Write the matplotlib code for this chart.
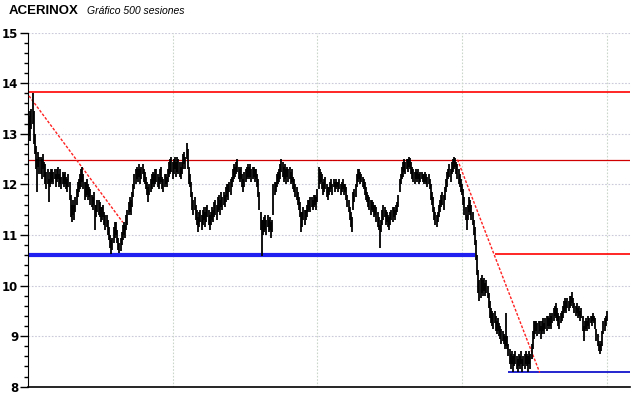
import numpy as np
import matplotlib
matplotlib.use("Agg")
import matplotlib.pyplot as plt
from matplotlib.ticker import MultipleLocator

# daily low / high, 500 sessions (10 per row)
lows = [
    12.95, 12.85, 13.10, 13.20, 12.80, 12.60, 12.30, 11.85, 12.35, 12.20,
    12.20, 12.10, 12.30, 12.15, 12.00, 11.90, 12.00, 11.65, 11.95, 12.00,
    12.05, 12.00, 12.10, 11.95, 12.05, 12.10, 11.95, 12.00, 11.90, 12.00,
    11.95, 12.00, 11.90, 11.85, 11.95, 11.70, 11.35, 11.25, 11.40, 11.30,
    11.45, 11.60, 11.75, 11.85, 11.90, 11.95, 12.05, 11.90, 11.70, 11.75,
    11.80, 11.70, 11.75, 11.60, 11.55, 11.50, 11.60, 11.10, 11.35, 11.45,
    11.40, 11.35, 11.25, 11.30, 11.35, 11.20, 11.10, 11.15, 11.00, 10.90,
    10.75, 10.63, 10.70, 10.85, 10.95, 11.00, 10.85, 10.70, 10.65, 10.68,
    10.80, 10.90, 11.00, 10.95, 11.10, 11.20, 11.40, 11.45, 11.40, 11.55,
    11.75, 11.90, 12.00, 12.10, 12.05, 12.15, 12.00, 12.10, 12.20, 12.05,
    12.00, 11.90, 11.80, 11.65, 11.80, 11.85, 11.90, 12.00, 11.95, 12.00,
    12.05, 11.95, 11.90, 12.00, 12.05, 11.90, 11.85, 11.95, 12.00, 11.95,
    12.05, 12.15, 12.20, 12.25, 12.10, 12.20, 12.30, 12.15, 12.25, 12.20,
    12.15, 12.10, 12.20, 12.30, 12.40, 12.30, 12.50, 12.30, 12.00, 11.95,
    11.75, 11.50, 11.40, 11.50, 11.30, 11.20, 11.05, 11.15, 11.25, 11.10,
    11.20, 11.30, 11.15, 11.25, 11.35, 11.20, 11.10, 11.20, 11.30, 11.25,
    11.35, 11.40, 11.30, 11.45, 11.50, 11.40, 11.55, 11.50, 11.60, 11.55,
    11.65, 11.75, 11.70, 11.85, 11.80, 11.95, 12.05, 12.10, 12.15, 12.20,
    12.25, 12.10, 12.05, 12.10, 11.95, 11.85, 11.95, 12.05, 12.10, 12.15,
    12.10, 12.15, 12.05, 12.10, 12.15, 12.05, 12.10, 11.95, 11.75, 11.50,
    11.10, 10.58, 11.00, 11.05, 11.10, 11.00, 11.15, 11.05, 11.10, 10.95,
    11.05, 11.40, 11.80, 11.85, 11.95, 12.00, 12.05, 12.10, 12.25, 12.15,
    12.05, 12.10, 12.00, 12.15, 12.05, 12.10, 12.00, 12.05, 11.90, 11.85,
    11.75, 11.70, 11.60, 11.50, 11.35, 11.05, 11.15, 11.30, 11.20, 11.30,
    11.35, 11.45, 11.50, 11.45, 11.55, 11.50, 11.55, 11.60, 11.50, 11.65,
    11.90, 12.00, 12.05, 11.90, 11.80, 11.85, 11.90, 11.75, 11.70, 11.80,
    11.85, 11.90, 11.80, 11.95, 11.85, 11.90, 11.95, 11.85, 11.90, 11.80,
    11.85, 11.90, 11.80, 11.85, 11.70, 11.55, 11.45, 11.30, 11.15, 11.05,
    11.50, 11.65, 11.75, 11.95, 12.05, 12.10, 12.00, 12.05, 11.95, 11.90,
    11.80, 11.70, 11.65, 11.55, 11.50, 11.40, 11.50, 11.45, 11.35, 11.40,
    11.25, 11.15, 11.10, 10.75, 11.05, 11.20, 11.30, 11.35, 11.20, 11.25,
    11.15, 11.10, 11.20, 11.30, 11.25, 11.35, 11.30, 11.40, 11.45, 11.55,
    11.85, 12.00, 12.10, 12.15, 12.25, 12.20, 12.30, 12.25, 12.35, 12.30,
    12.20, 12.10, 12.05, 12.00, 12.10, 12.05, 12.10, 12.00, 12.05, 12.10,
    12.05, 12.00, 12.05, 12.00, 11.95, 12.00, 11.90, 11.70, 11.60, 11.45,
    11.30, 11.20, 11.15, 11.25, 11.35, 11.45, 11.55, 11.60, 11.50, 11.70,
    11.85, 11.95, 12.10, 12.15, 12.05, 12.20, 12.25, 12.30, 12.35, 12.20,
    12.10, 12.00, 11.95, 11.85, 11.80, 11.60, 11.40, 11.30, 11.10, 11.30,
    11.45, 11.40, 11.30, 11.20, 11.00, 10.80, 10.50, 10.20, 9.85, 9.70,
    9.75, 9.85, 9.80, 9.90, 9.80, 9.85, 9.75, 9.55, 9.35, 9.25,
    9.20, 9.15, 9.25, 9.10, 9.05, 9.10, 9.00, 8.95, 8.85, 8.90,
    8.85, 8.75, 8.80, 8.75, 8.60, 8.45, 8.35, 8.45, 8.30, 8.40,
    8.45, 8.35, 8.30, 8.40, 8.35, 8.45, 8.30, 8.40, 8.35, 8.45,
    8.40, 8.30, 8.45, 8.35, 8.55, 8.75, 8.95, 9.05, 9.10, 9.00,
    9.05, 9.10, 8.95, 9.05, 9.10, 9.05, 9.15, 9.10, 9.20, 9.15,
    9.20, 9.15, 9.25, 9.30, 9.40, 9.35, 9.30, 9.20, 9.15, 9.25,
    9.30, 9.35, 9.45, 9.50, 9.45, 9.55, 9.50, 9.55, 9.60, 9.65,
    9.55, 9.45, 9.40, 9.45, 9.35, 9.40, 9.30, 9.35, 9.10, 8.90,
    9.10, 9.15, 9.10, 9.20, 9.15, 9.25, 9.20, 9.30, 9.25, 9.15,
    8.90, 8.80, 8.70, 8.65, 8.70, 8.80, 9.05, 9.10, 9.20, 9.30,
]

highs = [
    13.35, 13.45, 13.50, 13.80, 13.45, 13.00, 12.75, 12.50, 12.65, 12.55,
    12.55, 12.50, 12.60, 12.45, 12.40, 12.25, 12.30, 12.10, 12.25, 12.30,
    12.30, 12.25, 12.30, 12.20, 12.30, 12.35, 12.20, 12.30, 12.15, 12.25,
    12.20, 12.25, 12.15, 12.10, 12.20, 12.05, 11.80, 11.60, 11.70, 11.60,
    11.75, 11.90, 12.05, 12.10, 12.20, 12.30, 12.35, 12.20, 12.05, 12.05,
    12.10, 12.00, 11.95, 11.90, 11.80, 11.75, 11.85, 11.60, 11.60, 11.70,
    11.70, 11.65, 11.55, 11.55, 11.60, 11.45, 11.40, 11.40, 11.30, 11.15,
    11.00, 10.90, 10.95, 11.15, 11.25, 11.25, 11.10, 10.95, 10.85, 10.95,
    11.05, 11.20, 11.25, 11.20, 11.40, 11.50, 11.65, 11.75, 11.70, 11.85,
    12.00, 12.20, 12.30, 12.35, 12.30, 12.40, 12.30, 12.35, 12.40, 12.30,
    12.25, 12.15, 12.05, 11.95, 12.00, 12.10, 12.20, 12.25, 12.20, 12.30,
    12.30, 12.20, 12.15, 12.30, 12.35, 12.15, 12.10, 12.20, 12.20, 12.15,
    12.30, 12.45, 12.50, 12.55, 12.45, 12.50, 12.55, 12.45, 12.55, 12.50,
    12.45, 12.35, 12.45, 12.60, 12.65, 12.55, 12.82, 12.70, 12.35, 12.20,
    12.05, 11.85, 11.70, 11.75, 11.60, 11.50, 11.35, 11.45, 11.50, 11.40,
    11.50, 11.55, 11.45, 11.55, 11.60, 11.50, 11.40, 11.45, 11.55, 11.50,
    11.65, 11.70, 11.60, 11.75, 11.80, 11.70, 11.85, 11.75, 11.85, 11.80,
    11.95, 12.00, 12.00, 12.05, 12.10, 12.15, 12.30, 12.40, 12.35, 12.45,
    12.50, 12.35, 12.30, 12.35, 12.20, 12.10, 12.25, 12.30, 12.35, 12.40,
    12.35, 12.40, 12.30, 12.35, 12.35, 12.30, 12.30, 12.20, 12.10, 11.85,
    11.45, 11.30, 11.30, 11.35, 11.40, 11.30, 11.40, 11.30, 11.35, 11.25,
    11.30, 12.00, 12.05, 12.05, 12.20, 12.25, 12.30, 12.40, 12.50, 12.45,
    12.35, 12.40, 12.30, 12.35, 12.30, 12.35, 12.25, 12.30, 12.15, 12.10,
    12.00, 11.95, 11.85, 11.75, 11.65, 11.45, 11.45, 11.55, 11.50, 11.50,
    11.60, 11.70, 11.70, 11.75, 11.75, 11.70, 11.80, 11.80, 11.75, 11.90,
    12.35, 12.30, 12.25, 12.20, 12.05, 12.10, 12.15, 12.00, 11.95, 11.95,
    12.05, 12.10, 12.00, 12.10, 12.05, 12.10, 12.05, 12.05, 12.10, 12.00,
    12.05, 12.10, 12.00, 12.00, 11.95, 11.80, 11.70, 11.55, 11.45, 11.35,
    11.85, 11.90, 12.00, 12.20, 12.30, 12.30, 12.25, 12.20, 12.15, 12.10,
    12.05, 11.95, 11.85, 11.80, 11.75, 11.70, 11.70, 11.65, 11.60, 11.60,
    11.55, 11.45, 11.35, 11.20, 11.30, 11.50, 11.60, 11.55, 11.50, 11.45,
    11.40, 11.35, 11.45, 11.50, 11.55, 11.55, 11.50, 11.60, 11.65, 11.80,
    12.10, 12.20, 12.35, 12.45, 12.50, 12.45, 12.50, 12.50, 12.55, 12.52,
    12.45, 12.35, 12.30, 12.25, 12.30, 12.25, 12.30, 12.20, 12.25, 12.25,
    12.20, 12.20, 12.25, 12.20, 12.15, 12.20, 12.10, 12.00, 11.85, 11.75,
    11.55, 11.45, 11.40, 11.45, 11.60, 11.70, 11.80, 11.85, 11.80, 11.95,
    12.10, 12.25, 12.30, 12.40, 12.30, 12.45, 12.50, 12.55, 12.52, 12.45,
    12.40, 12.30, 12.20, 12.10, 12.00, 11.90, 11.75, 11.55, 11.40, 11.60,
    11.75, 11.70, 11.60, 11.45, 11.30, 11.15, 10.90, 10.60, 10.30, 10.10,
    10.15, 10.20, 10.10, 10.15, 10.05, 10.10, 10.00, 9.85, 9.70, 9.55,
    9.50, 9.45, 9.50, 9.40, 9.30, 9.35, 9.25, 9.20, 9.15, 9.10,
    9.05, 9.00, 9.45, 9.00, 8.85, 8.75, 8.65, 8.70, 8.60, 8.65,
    8.70, 8.60, 8.55, 8.65, 8.60, 8.70, 8.55, 8.60, 8.65, 8.70,
    8.65, 8.60, 8.70, 8.65, 8.85, 9.10, 9.30, 9.30, 9.30, 9.25,
    9.30, 9.30, 9.20, 9.30, 9.35, 9.25, 9.35, 9.40, 9.40, 9.35,
    9.45, 9.40, 9.45, 9.55, 9.60, 9.65, 9.55, 9.45, 9.40, 9.45,
    9.50, 9.60, 9.70, 9.75, 9.70, 9.75, 9.70, 9.80, 9.80, 9.88,
    9.75, 9.65, 9.60, 9.65, 9.55, 9.60, 9.50, 9.55, 9.40, 9.20,
    9.30, 9.35, 9.30, 9.40, 9.35, 9.40, 9.40, 9.45, 9.40, 9.35,
    9.15, 9.05, 8.90, 8.85, 8.90, 9.10, 9.30, 9.35, 9.40, 9.50,
]

# horizontal levels (price) and the session where they start / end
top_resist = 13.82
mid_resist = 12.49
blue_support = 10.60
blue_support_end = 385
red_level = 10.62
red_level_start = 402
low_support = 8.30
low_support_start = 414

# dashed trend lines: (session, price) pairs
trend1 = [(0, 13.75), (81, 11.25)]
trend2 = [(370, 12.49), (441, 8.28)]

vgrid_sessions = [124, 249, 374, 499]

x = np.arange(len(lows))
x_right = 519

fig = plt.figure(figsize=(6.4, 3.98), dpi=100)
ax = fig.add_axes([28 / 640, 11.3 / 398, 602 / 640, 354 / 398])

ax.set_xlim(-0.9, x_right)
ax.set_ylim(8, 15)

# grid
for yv in range(8, 16):
    ax.axhline(yv, color="#cacada", lw=0.8, ls=(0, (1.5, 1.5)), zorder=0)
for xv in vgrid_sessions:
    ax.axvline(xv, color="#cad6ca", lw=0.8, ls=(0, (1.5, 1.5)), zorder=0)

# levels
ax.axhline(top_resist, color="#ff0000", lw=1.2, zorder=2)
ax.axhline(mid_resist, color="#d00000", lw=0.9, zorder=2)
ax.hlines(blue_support, -0.9, blue_support_end, color="#2020f0", lw=3, zorder=2)
ax.hlines(red_level, red_level_start, x_right, color="#ff0000", lw=1.2, zorder=2)
ax.hlines(low_support, low_support_start, x_right, color="#0000c8", lw=1.2, zorder=2)

for tl in (trend1, trend2):
    ax.plot([tl[0][0], tl[1][0]], [tl[0][1], tl[1][1]], color="#ff2020",
            lw=1, ls=(0, (2, 1.2)), zorder=3)

# price bars
ax.vlines(x, lows, highs, color="black", lw=1.3, zorder=4)

# axes styling
for s in ("top", "right"):
    ax.spines[s].set_visible(False)
ax.spines["left"].set_color("black")
ax.spines["bottom"].set_color("black")
ax.spines["bottom"].set_linewidth(1.2)
ax.set_xticks([])
ax.yaxis.set_major_locator(MultipleLocator(1))
ax.yaxis.set_minor_locator(MultipleLocator(0.2))
ax.tick_params(axis="y", which="major", length=6, width=1, pad=1,
               labelsize=8.5, direction="out")
ax.tick_params(axis="y", which="minor", length=3, width=1, direction="out")
for lab in ax.get_yticklabels():
    lab.set_fontweight("bold")
    lab.set_family("DejaVu Sans")

fig.text(9 / 640, 1 - 11 / 398, "ACERINOX", fontsize=9.5, fontweight="bold",
         family="Liberation Sans", va="center", ha="left")
fig.text(87 / 640, 1 - 11 / 398, "Gráfico 500 sesiones", fontsize=7.5,
         style="italic", family="Liberation Sans", va="center", ha="left")

fig.savefig("out.png", dpi=100)
